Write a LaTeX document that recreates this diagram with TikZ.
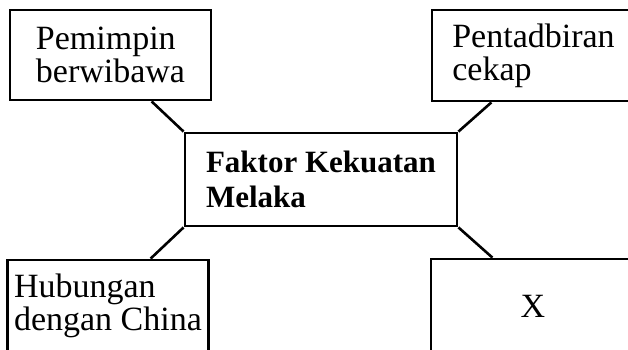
\documentclass[tikz,border=0pt]{standalone}
\usepackage{fontspec}
\setmainfont{Liberation Serif}

\begin{document}
\begin{tikzpicture}[
        x=1pt, y=-1pt,
        factor/.style={
            draw,
            rectangle,
            line width=2.8pt,
            inner sep=0pt,
            align=left,
            font=\fontsize{34}{33}\selectfont
        },
        main factor/.style={
            factor,
            font=\bfseries\fontsize{31}{35}\selectfont
        },
        link/.style={line width=2.6pt}
    ]

    \useasboundingbox (0,0) rectangle (628,350);
    \clip (0,0) rectangle (628,350);

    \node[main factor, minimum width=272pt, minimum height=93pt] (cen) at (321,179.5)
        {Faktor Kekuatan\\Melaka};

    \node[factor, minimum width=201pt, minimum height=90pt] (pem) at (110.5,55)
        {Pemimpin\\berwibawa};
    \node[factor, minimum width=203pt, minimum height=91pt] (pen) at (533.5,55.5)
        {Pentadbiran\\cekap};
    \node[factor, minimum width=201pt, minimum height=92pt] (hub) at (108,306)
        {Hubungan\\dengan China};
    \node[factor, minimum width=204pt, minimum height=94pt] (xx) at (533,306)
        {X};

    \draw[link] (cen.north west) -- ([xshift=-32pt]cen.north west |- pem.south);
    \draw[link] (cen.north east) -- ([xshift=33pt]cen.north east |- pen.south);
    \draw[link] (cen.south west) -- ([xshift=-33pt]cen.south west |- hub.north);
    \draw[link] (cen.south east) -- ([xshift=34pt]cen.south east |- xx.north);

\end{tikzpicture}
\end{document}
